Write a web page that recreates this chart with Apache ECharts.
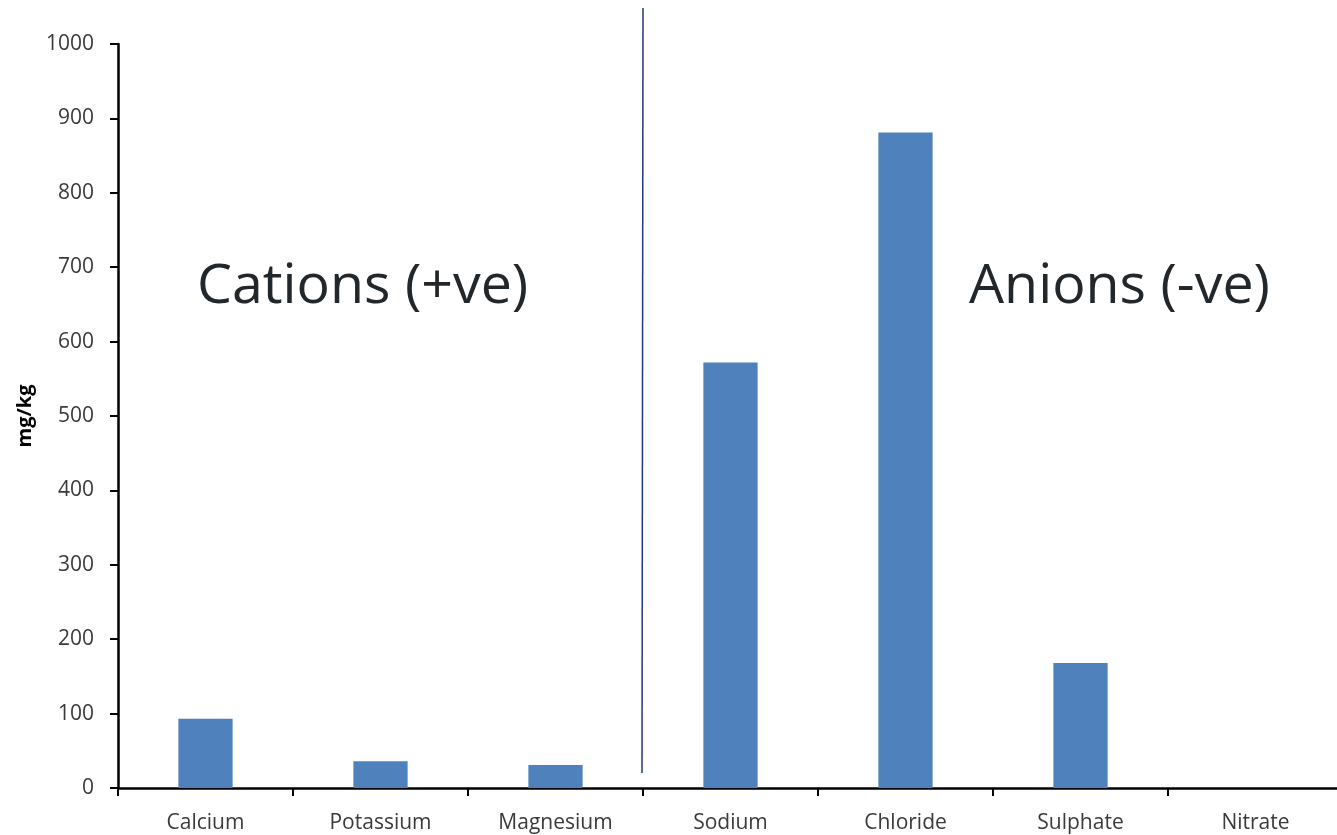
<!DOCTYPE html>
<html>
<head>
<meta charset="utf-8">
<script src="https://cdn.jsdelivr.net/npm/echarts@6/dist/echarts.min.js"></script>
<style>
html,body{margin:0;padding:0;background:#fff;overflow:hidden;}
#wrap{width:1337px;height:835px;overflow:hidden;}
#chart{width:1343px;height:835px;}
</style>
</head>
<body>
<div id="wrap"><div id="chart"></div></div>
<script>
const categories = ['Calcium','Potassium','Magnesium','Sodium','Chloride','Sulphate','Nitrate'];
const values = [93, 36, 31, 572, 881, 168, 0];
const yTicks = {min: 0, max: 1000, interval: 100};
const groupLabels = ['Cations (+ve)', 'Anions (-ve)'];

const FONT = '"Open Sans", "Noto Sans", sans-serif';
const chart = echarts.init(document.getElementById('chart'));
const option = {
  animation: false,
  backgroundColor: '#ffffff',
  grid: {left: 118, top: 44, right: 0, bottom: 47, containLabel: false},
  xAxis: {
    type: 'category',
    data: categories,
    boundaryGap: true,
    axisLine: {lineStyle: {color: '#000', width: 2.5}},
    axisTick: {show: true, length: 8, inside: false, lineStyle: {color: '#000', width: 2}},
    axisLabel: {color: '#3a3a3a', fontSize: 21, fontFamily: FONT, margin: 25},
    splitLine: {show: false}
  },
  yAxis: {
    type: 'value',
    min: yTicks.min, max: yTicks.max, interval: yTicks.interval,
    name: 'mg/kg',
    nameLocation: 'middle',
    nameGap: 80,
    nameTextStyle: {color: '#000', fontSize: 20, fontWeight: 'bold', fontFamily: FONT},
    axisLine: {show: true, lineStyle: {color: '#000', width: 2.5}},
    axisTick: {show: true, length: 8, lineStyle: {color: '#000', width: 2}},
    axisLabel: {color: '#3a3a3a', fontSize: 21, fontFamily: FONT, margin: 24,
                formatter: v => String(v)},
    splitLine: {show: false}
  },
  series: [{
    type: 'bar',
    data: values,
    barWidth: '31%',
    itemStyle: {color: '#4F81BD', borderWidth: 0}
  }]
};
chart.setOption(option);

// divider between cation and anion groups: boundary between Magnesium and Sodium
const xMag = chart.convertToPixel({xAxisIndex: 0}, 'Magnesium');
const xSod = chart.convertToPixel({xAxisIndex: 0}, 'Sodium');
const xDiv = (xMag + xSod) / 2;
const yBase = chart.convertToPixel({yAxisIndex: 0}, 0);
chart.setOption({
  graphic: [
    {type: 'line', shape: {x1: xDiv, y1: 8, x2: xDiv - 1, y2: yBase - 15},
     style: {stroke: '#1F3A78', lineWidth: 1.5}, z: 10},
    {type: 'text', left: 197, top: 259,
     style: {text: groupLabels[0], fill: '#22272B', fontSize: 55.5, fontFamily: FONT}},
    {type: 'text', left: 969, top: 259,
     style: {text: groupLabels[1], fill: '#22272B', fontSize: 55.5, fontFamily: FONT}}
  ]
});
</script>
</body>
</html>
